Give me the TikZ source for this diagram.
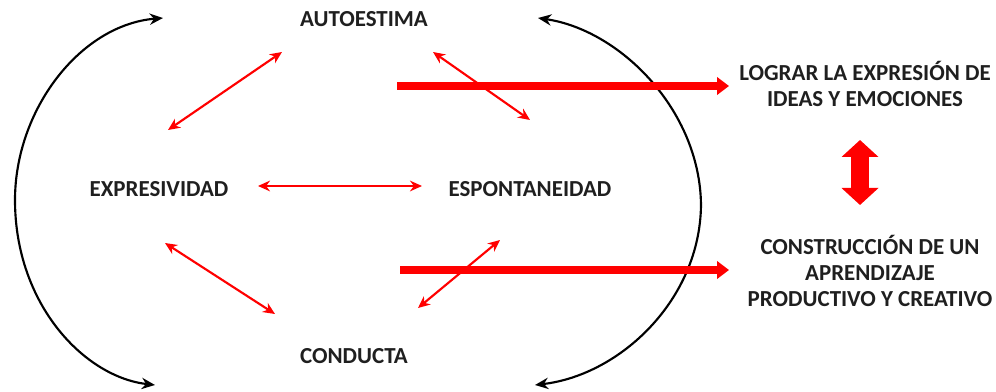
\documentclass[tikz,border=0pt]{standalone}
\usepackage{fontspec}
\setmainfont{Carlito}
\usetikzlibrary{arrows.meta}
\begin{document}
\begin{tikzpicture}[x=0.75pt,y=0.75pt,
  lbl/.style={font=\bfseries\fontsize{17.2}{19.3}\selectfont, text=black!88, align=center, inner sep=0pt},
  rel/.style={red, line width=1.6pt, {Stealth[length=9pt,width=8pt]}-{Stealth[length=9pt,width=8pt]}},
  cyc/.style={black, line width=1.6pt, {Stealth[length=10pt,width=8.5pt]}-{Stealth[length=10pt,width=8.5pt]}},
  big/.style={red, line width=6pt, -{Triangle[length=9pt,width=13pt]}},
  dbl/.style={red, line width=13.5pt, {Triangle[length=12.75pt,width=27pt]}-{Triangle[length=12.75pt,width=27pt]}}]
\useasboundingbox (0,0) rectangle (996,-392);

% labels
\node[lbl] (au) at (364,-19) {AUTOESTIMA};
\node[lbl] (ex) at (159,-189) {EXPRESIVIDAD};
\node[lbl] (es) at (530,-189) {ESPONTANEIDAD};
\node[lbl] (co) at (354,-356) {CONDUCTA};
\node[lbl] (lo) at (865,-84) {LOGRAR LA EXPRESIÓN DE\\IDEAS Y EMOCIONES};
\node[lbl] (cn) at (870,-271) {CONSTRUCCIÓN DE UN\\APRENDIZAJE\\PRODUCTIVO Y CREATIVO};

% connector end points
\coordinate (r1a) at (168,-130); \coordinate (r1b) at (282,-52);
\coordinate (r2a) at (433,-52);  \coordinate (r2b) at (530,-120);
\coordinate (r3a) at (258,-186); \coordinate (r3b) at (422,-186);
\coordinate (r4a) at (165,-243); \coordinate (r4b) at (275,-314);
\coordinate (r5a) at (418,-308); \coordinate (r5b) at (500,-240);
\coordinate (t1a) at (397,-86);  \coordinate (t1b) at (729,-86);
\coordinate (t2a) at (400,-270); \coordinate (t2b) at (729,-270);
\coordinate (da) at (860,-140);  \coordinate (db) at (860,-205);

% cycle arcs
\draw[cyc] (163,-18) .. controls (80,-25) and (15,-110) .. (15,-200)
           .. controls (15,-305) and (85,-377) .. (155,-385);
\draw[cyc] (538,-18) .. controls (620,-30) and (700,-110) .. (701,-205)
           .. controls (700,-300) and (620,-375) .. (535,-385);

% relation arrows
\draw[rel] (r1a) -- (r1b);
\draw[rel] (r2a) -- (r2b);
\draw[rel] (r3a) -- (r3b);
\draw[rel] (r4a) -- (r4b);
\draw[rel] (r5a) -- (r5b);

% thick arrows
\draw[big] (t1a) -- (t1b);
\draw[big] (t2a) -- (t2b);

% double arrow
\draw[dbl] (da) -- (db);
\end{tikzpicture}
\end{document}
